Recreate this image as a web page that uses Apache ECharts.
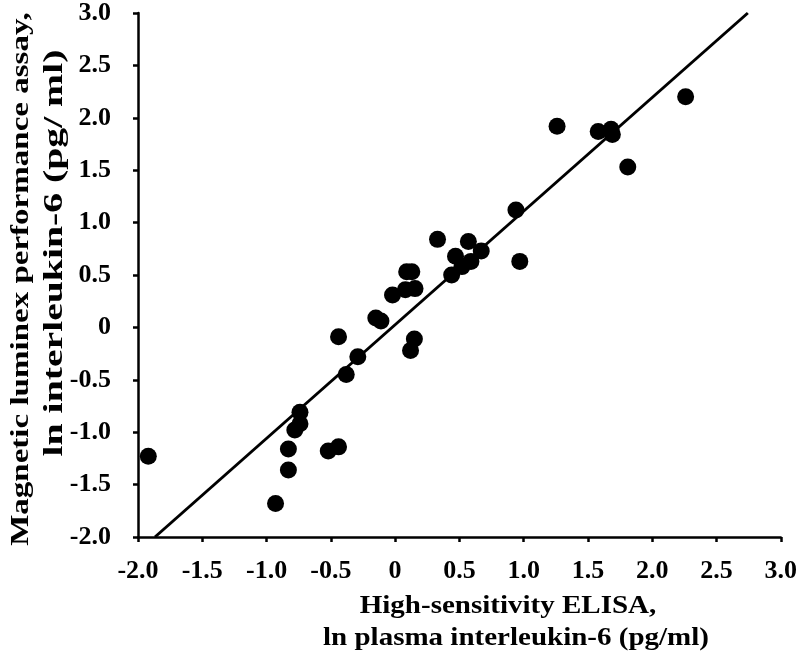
<!DOCTYPE html>
<html>
<head>
<meta charset="utf-8">
<script src="https://cdn.jsdelivr.net/npm/echarts@6/dist/echarts.min.js"></script>
<style>html,body{margin:0;padding:0;background:#fff}#c{width:800px;height:665px}</style>
</head>
<body>
<div id="c"></div>
<script>
// ELISA (x) vs luminex (y), ln IL-6
const elisaX = [-1.92,-0.93,-0.83,-0.83,-0.78,-0.74,-0.74,-0.52,-0.44,-0.44,-0.38,-0.29,-0.15,-0.11,-0.02,0.08,0.155,0.09,0.13,0.15,0.12,0.33,0.44,0.47,0.52,0.57,0.59,0.67,0.94,0.97,1.26,1.58,1.68,1.69,1.81,2.26];
const luminexY = [-1.23,-1.68,-1.36,-1.16,-0.98,-0.92,-0.81,-1.18,-1.14,-0.09,-0.45,-0.28,0.09,0.06,0.31,0.36,0.37,0.53,0.53,-0.11,-0.22,0.84,0.50,0.68,0.58,0.82,0.63,0.73,1.12,0.63,1.92,1.87,1.89,1.84,1.53,2.20];
const fitX = [-1.868, 2.744];
const fitY = [-2.0, 3.0];
const xTitle = ['High-sensitivity ELISA,', 'ln plasma interleukin-6 (pg/ml)'];
const yTitle = ['Magnetic luminex performance assay,', 'ln interleukin-6 (pg/ ml)'];

const FF = 'Liberation Serif';
const fmt = v => (Math.abs(v) < 1e-9 ? '0' : v.toFixed(1));
const chart = echarts.init(document.getElementById('c'));
function txt(t, x, y, rot, sx, fs) {
  return {type:'text', x:x, y:y, rotation:rot, scaleX:sx, scaleY:1,
    style:{text:t, font:'bold ' + fs + 'px "Liberation Serif"', fill:'#000',
      textAlign:'center', align:'center', textVerticalAlign:'middle', verticalAlign:'middle'}};
}
chart.setOption({
  animation:false,
  grid:{left:138, right:17, top:10, bottom:128},
  xAxis:{type:'value', min:-2, max:3, interval:0.5,
    splitLine:{show:false},
    axisLine:{onZero:false, lineStyle:{color:'#000', width:2.5}},
    axisTick:{show:true, length:5, lineStyle:{color:'#000', width:2.5}},
    axisLabel:{margin:21, formatter:fmt, color:'#000', fontFamily:FF, fontWeight:'bold', fontSize:26}},
  yAxis:{type:'value', min:-2, max:3, interval:0.5,
    splitLine:{show:false},
    axisLine:{show:true, onZero:false, lineStyle:{color:'#000', width:2.5}},
    axisTick:{show:true, length:5, lineStyle:{color:'#000', width:2.5}},
    axisLabel:{margin:27, formatter:fmt, color:'#000', fontFamily:FF, fontWeight:'bold', fontSize:26}},
  series:[
    {type:'line', data:fitX.map((x,i)=>[x, fitY[i]]), symbol:'none',
      lineStyle:{color:'#000', width:3}, z:2},
    {type:'scatter', data:elisaX.map((x,i)=>[x, luminexY[i]]), symbolSize:17,
      itemStyle:{color:'#000', opacity:1}, z:3}
  ],
  graphic:[
    txt(xTitle[0], 508, 607, 0, 1.16, 25),
    txt(xTitle[1], 516, 639, 0, 1.16, 25),
    txt(yTitle[0], 21, 279, Math.PI/2, 1.27, 26),
    txt(yTitle[1], 55, 253, Math.PI/2, 1.47, 27)
  ]
});
</script>
</body>
</html>
